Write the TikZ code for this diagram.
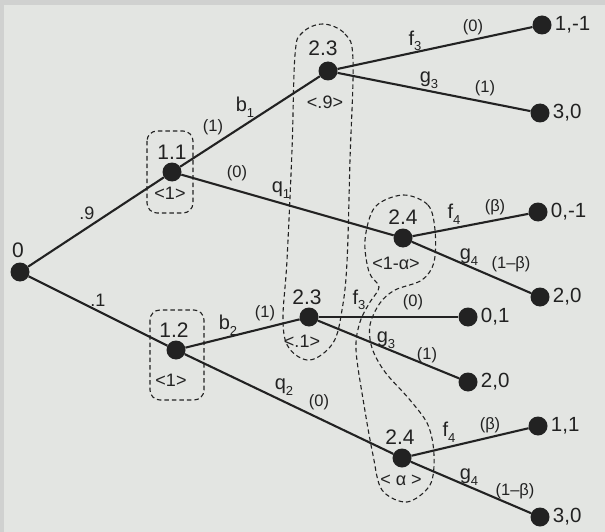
\documentclass[tikz,border=0pt]{standalone}
\usepackage{fontspec}
\setmainfont{Liberation Sans}
\definecolor{bg}{HTML}{E3E5E2}
\definecolor{strip}{HTML}{D0D1D0}
\definecolor{ink}{HTML}{222222}
\newcommand{\lsub}[1]{\raisebox{-0.28em}{\fontsize{13}{13}\selectfont #1}}
\begin{document}
\begin{tikzpicture}[x=1pt,y=-1pt,
  dot/.style={circle,fill=ink,inner sep=0pt,minimum size=19pt},
  edge/.style={draw=ink,line width=2.1pt},
  iset/.style={draw=ink,line width=1.1pt,dash pattern=on 4.5pt off 3pt},
  nlab/.style={text=ink,inner sep=0pt,font=\fontsize{21}{23}\selectfont},
  act/.style={text=ink,inner sep=0pt,font=\fontsize{20}{22}\selectfont},
  prob/.style={text=ink,inner sep=0pt,font=\fontsize{16.5}{18}\selectfont},
  belief/.style={text=ink,inner sep=0pt,font=\fontsize{18}{20}\selectfont},
  pay/.style={text=ink,inner sep=0pt,anchor=west,font=\fontsize{20.5}{22}\selectfont}]
\fill[bg] (0,0) rectangle (605,532);
\fill[strip] (0,0) rectangle (605,5);
\fill[strip] (0,0) rectangle (4,532);
\useasboundingbox (0,0) rectangle (605,532);

% information sets
\draw[iset,rounded corners=10pt] (147,131) rectangle (193,213);
\draw[iset,rounded corners=10pt] (150,310) rectangle (204,400);
\draw[iset] plot[smooth cycle,tension=0.6] coordinates {
  (323,24) (345,34) (353,60) (350,160) (347,262) (342,310) (333,343)
  (310,360) (289,348) (283,320) (287,260) (292,150) (295,55) (302,33)};
\draw[iset] plot[smooth cycle,tension=0.55] coordinates {
  (403,195) (428,205) (435,230) (434,262) (422,280) (395,290) (380,303)
  (370,325) (372,348) (385,372) (410,400) (428,425) (434,455) (430,485)
  (407,502) (382,490) (373,455) (364,405) (356,350) (360,322) (370,302)
  (379,287) (369,272) (365,240) (375,207)};

% decision nodes
\node[dot] (n0) at (20,272) {};
\node[dot] (n11) at (172,172) {};
\node[dot] (n12) at (176,350) {};
\node[dot] (n23a) at (328,71) {};
\node[dot] (n24a) at (403,238) {};
\node[dot] (n23b) at (309,317) {};
\node[dot] (n24b) at (402,458) {};
% terminal nodes
\node[dot] (t1) at (542,25) {};
\node[dot] (t2) at (540,113) {};
\node[dot] (t3) at (538,212) {};
\node[dot] (t4) at (540,297) {};
\node[dot] (t5) at (468,317) {};
\node[dot] (t6) at (468,382) {};
\node[dot] (t7) at (538,426) {};
\node[dot] (t8) at (540,517) {};

% edges
\draw[edge] (n0) -- (n11);
\draw[edge] (n0) -- (n12);
\draw[edge] (n11) -- (n23a);
\draw[edge] (n11) -- (n24a);
\draw[edge] (n12) -- (n23b);
\draw[edge] (n12) -- (n24b);
\draw[edge] (n23a) -- (t1);
\draw[edge] (n23a) -- (t2);
\draw[edge] (n24a) -- (t3);
\draw[edge] (n24a) -- (t4);
\draw[edge] (n23b) -- (t5);
\draw[edge] (n23b) -- (t6);
\draw[edge] (n24b) -- (t7);
\draw[edge] (n24b) -- (t8);

% node labels
\node[nlab] (l0) at (18,250) {0};
\node[nlab] (l11) at (172,152) {1.1};
\node[belief] (b11) at (170,193) {<1>};
\node[nlab] (l12) at (174,330) {1.2};
\node[belief] (b12) at (171,380) {<1>};
\node[nlab] (l23a) at (323,48) {2.3};
\node[belief] (b23a) at (325,102) {<.9>};
\node[nlab] (l24a) at (403,217) {2.4};
\node[belief] (b24a) at (396,263) {<1-α>};
\node[nlab] (l23b) at (307,297) {2.3};
\node[belief] (b23b) at (302,341) {<.1>};
\node[nlab] (l24b) at (400,437) {2.4};
\node[belief] (b24b) at (401,480) {< α >};

% payoffs
\node[pay] (p1) at ([xshift=3pt]t1.east) {1,-1};
\node[pay] (p2) at ([xshift=3pt]t2.east) {3,0};
\node[pay] (p3) at ([xshift=3pt]t3.east) {0,-1};
\node[pay] (p4) at ([xshift=3pt]t4.east) {2,0};
\node[pay] (p5) at ([xshift=3pt]t5.east) {0,1};
\node[pay] (p6) at ([xshift=3pt]t6.east) {2,0};
\node[pay] (p7) at ([xshift=3pt]t7.east) {1,1};
\node[pay] (p8) at ([xshift=3pt]t8.east) {3,0};

% edge labels
\node[belief] (e9) at (87,213) {.9};
\node[belief] (e1) at (98,300) {.1};
\node[act] (ab1) at (245,107) {b\lsub{1}};
\node[prob] (pb1) at (213,127) {(1)};
\node[prob] (pq1) at (237,173) {(0)};
\node[act] (aq1) at (281,190) {q\lsub{1}};
\node[act] (af3a) at (415,41) {f\lsub{3}};
\node[prob] (pf3a) at (473,27) {(0)};
\node[act] (ag3a) at (429,80) {g\lsub{3}};
\node[prob] (pg3a) at (485,88) {(1)};
\node[act] (af4a) at (454,214) {f\lsub{4}};
\node[prob] (pf4a) at (495,207) {(β)};
\node[act] (ag4a) at (469,257) {g\lsub{4}};
\node[prob] (pg4a) at (511,264) {(1–β)};
\node[act] (ab2) at (228,325) {b\lsub{2}};
\node[prob] (pb2) at (265,313) {(1)};
\node[act] (aq2) at (284,387) {q\lsub{2}};
\node[prob] (pq2) at (319,402) {(0)};
\node[act] (af3b) at (359,300) {f\lsub{3}};
\node[prob] (pf3b) at (413,302) {(0)};
\node[act] (ag3b) at (386,340) {g\lsub{3}};
\node[prob] (pg3b) at (427,355) {(1)};
\node[act] (af4b) at (449,432) {f\lsub{4}};
\node[prob] (pf4b) at (490,425) {(β)};
\node[act] (ag4b) at (469,477) {g\lsub{4}};
\node[prob] (pg4b) at (515,491) {(1–β)};
\end{tikzpicture}
\end{document}
